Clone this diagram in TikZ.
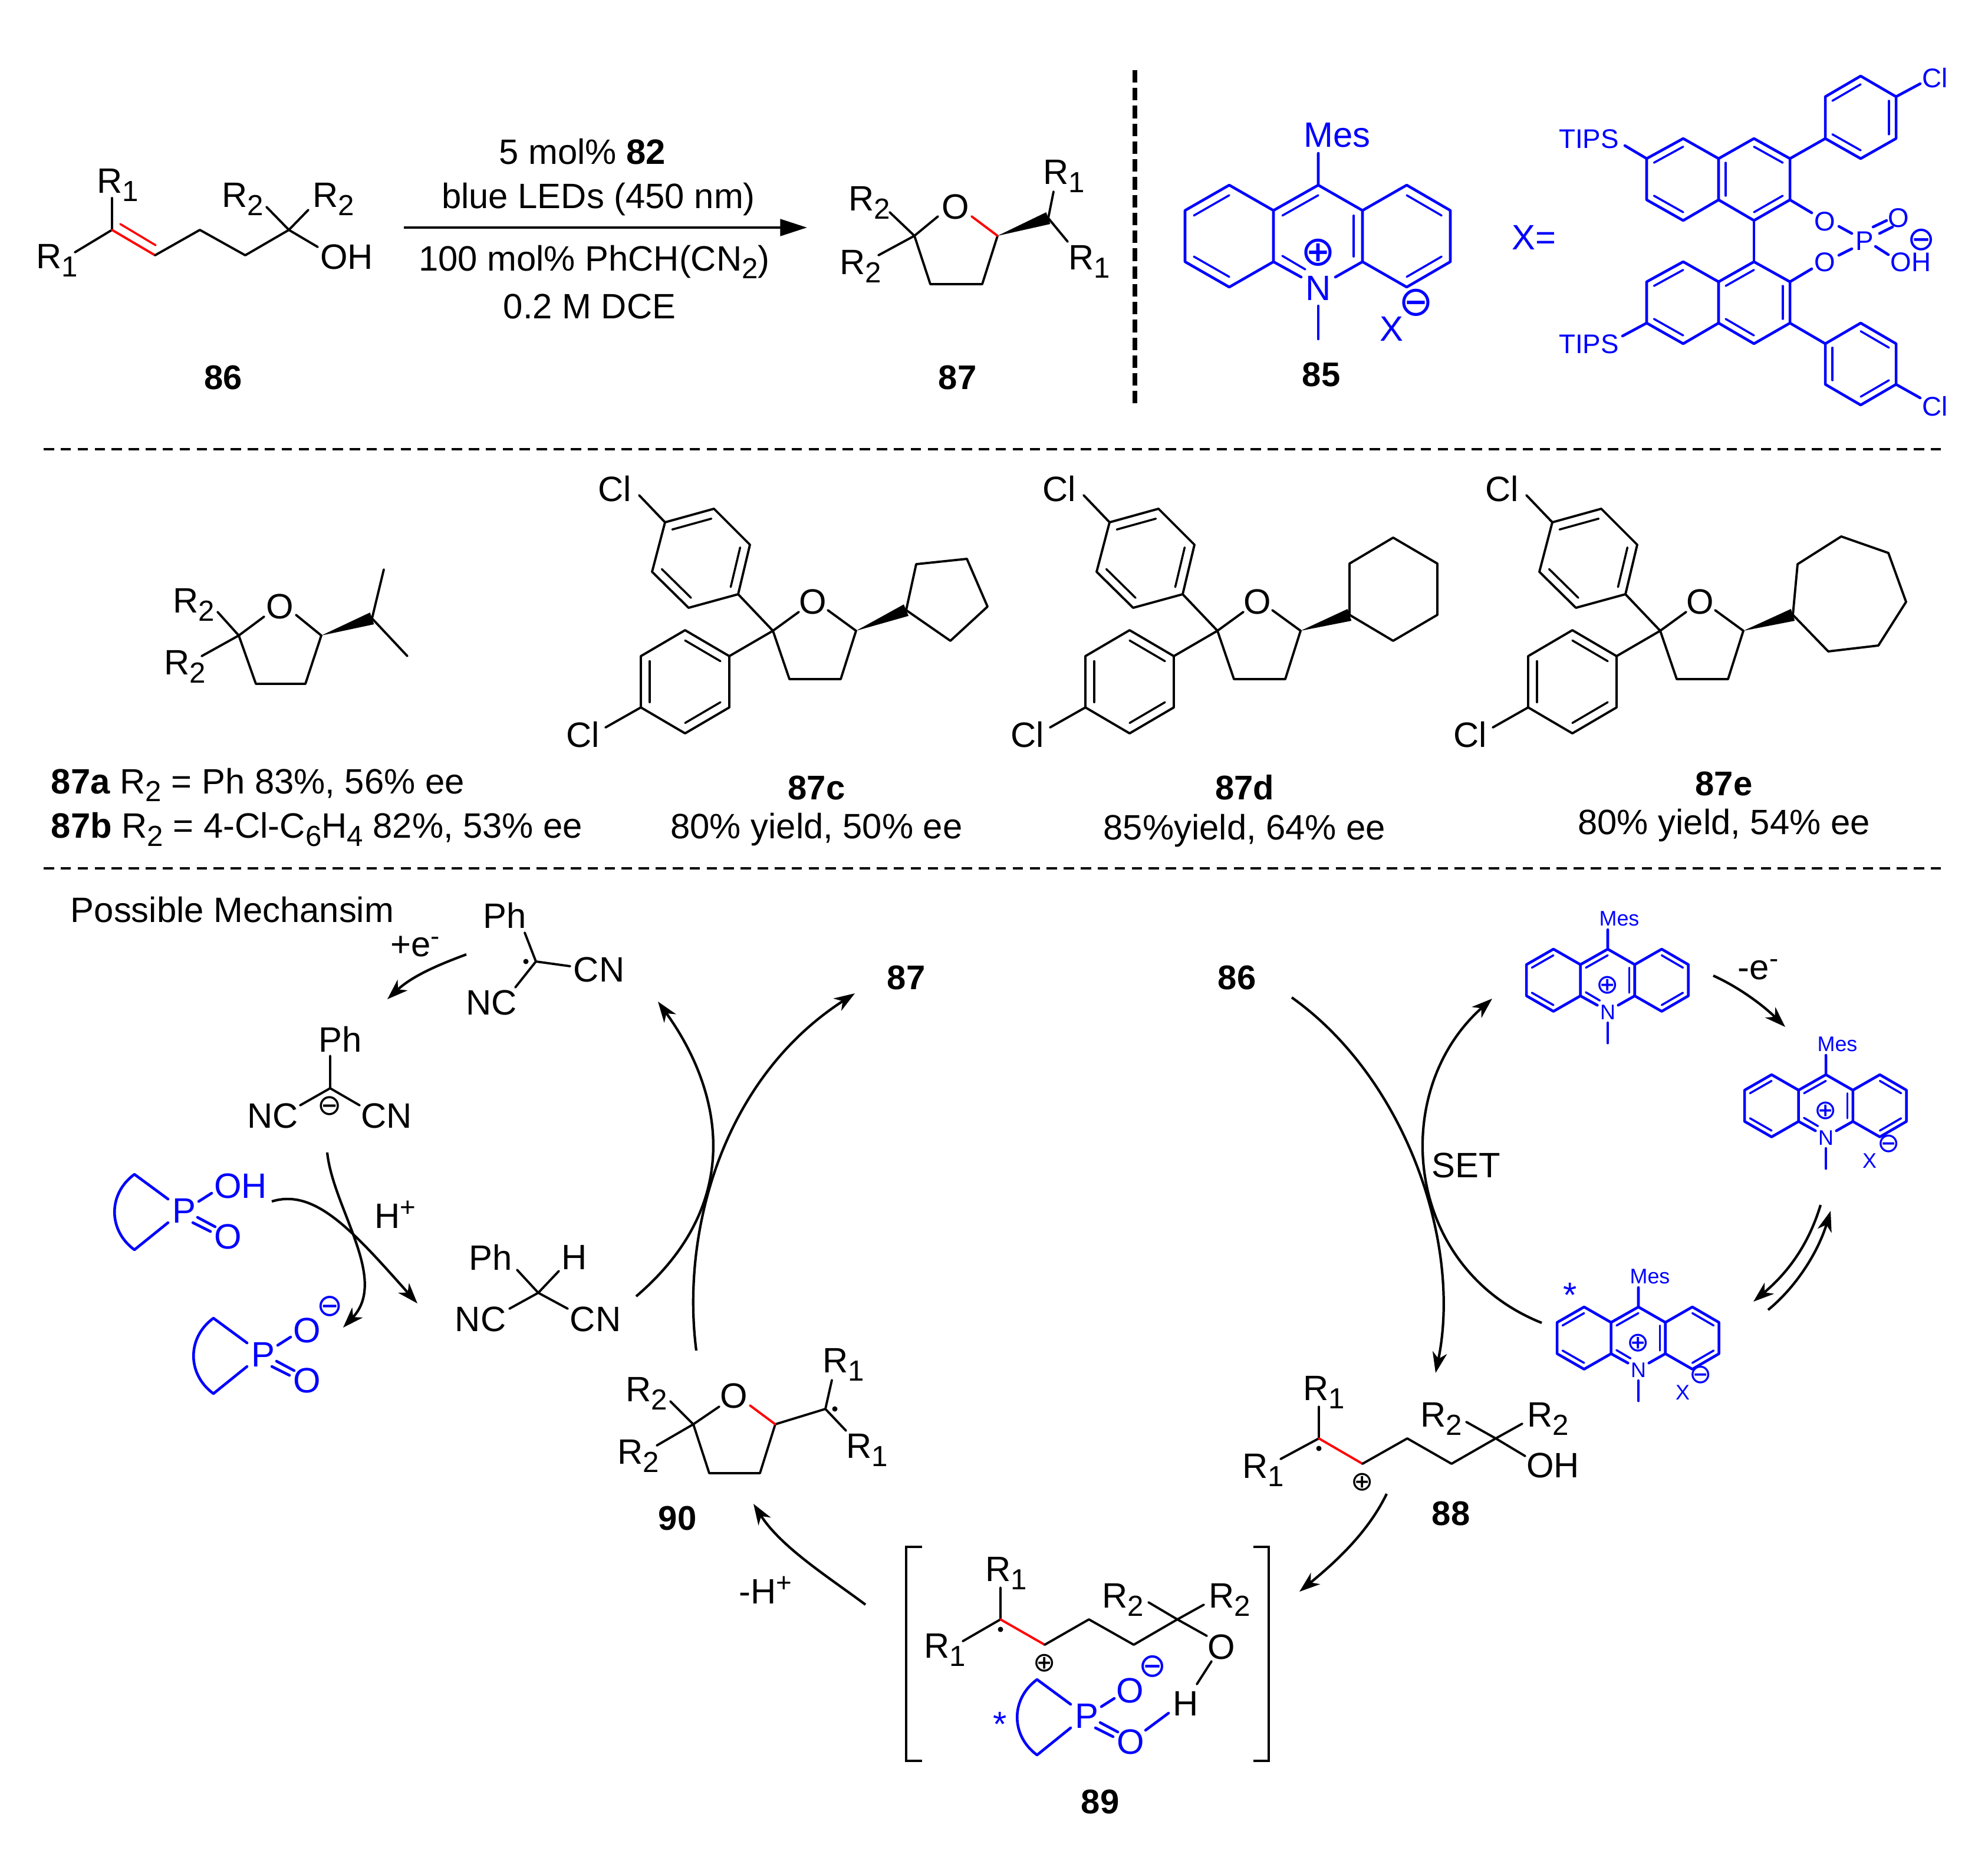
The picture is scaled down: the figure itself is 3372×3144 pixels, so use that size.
\documentclass[tikz,border=0pt]{standalone}
\usepackage{fontspec}
\setmainfont{Liberation Sans}
\newfontfamily\symf{DejaVu Sans}
\usetikzlibrary{calc,arrows.meta}
\newcommand\sbs[1]{\raisebox{-0.42ex}{\fontsize{14pt}{15pt}\selectfont #1}}
\newcommand\sps[1]{\raisebox{0.62ex}{\fontsize{13pt}{15pt}\selectfont #1}}
\tikzset{
  lb/.style={inner sep=0pt,outer sep=0pt,font=\fontsize{17pt}{19pt}\selectfont},
  num/.style={font=\fontsize{16.5pt}{19pt}\selectfont\bfseries},
  sm/.style={font=\fontsize{10.2pt}{12pt}\selectfont},
  md/.style={blue,font=\fontsize{13pt}{15pt}\selectfont},
  bd/.style={line width=1.1pt,line join=round,line cap=round},
  bb/.style={line width=1.3pt,line join=round,line cap=round,blue},
  rb/.style={bd,red},
  inn/.style={line width=1pt,line cap=round},
  curv/.style={line width=1.2pt,-{Stealth[length=10pt,width=7pt,inset=3pt]}},
  blk/.style={line width=1.2pt},
  sepd/.style={line width=1.2pt,dash pattern=on 5pt off 3.2pt},
}
\newcommand\lb[4][]{\node[lb,#1] (#2) at (#3) {#4};}
\newcommand\chg[5][black]{\node[inner sep=0pt,#1,font=\fontsize{#4pt}{#4pt}\selectfont\symf] (#2) at (#3) {#5};}
\newcommand\dbl[4][]{\draw[inn,#1] ($(#2)!.2!(#4)$) -- ($(#3)!.2!(#4)$);}
\newcommand\wdg[2]{\fill ($(#1)$) -- ($(#2)!3pt!90:(#1)$) -- ($(#2)!3pt!-90:(#1)$) -- cycle;}
\newcommand\dotr[1]{\fill (#1) circle (4.5);}
% acridinium: name, x, y, scale, label style, plus y, plus size
\newcommand\acr[7]{%
\begin{scope}[shift={(#2,#3)},scale=#4,blue]
\draw[bb] (0,-54) -- (0,0) -- (-76,43) -- (-151,0) -- (-226,43) -- (-226,130) -- (-151,173) -- (-76,130) -- (-76,43);
\draw[bb] (-76,130) -- (-29,156);
\draw[bb] (0,0) -- (75,43) -- (150,0) -- (224,43) -- (224,130) -- (150,173) -- (75,130) -- (75,43);
\draw[bb] (75,130) -- (29,156);
\draw[bb] (0,205) -- (0,261);
\dbl[blue]{-151,0}{-226,43}{-151,86}
\dbl[blue]{-226,130}{-151,173}{-151,86}
\dbl[blue]{0,0}{-76,43}{0,86}
\dbl[blue]{75,43}{75,130}{0,86}
\dbl[blue]{150,0}{224,43}{150,86}
\dbl[blue]{224,130}{150,173}{150,86}
\draw[inn] (-61,120) -- (-22,143);
\node[lb,#5,blue] (#1N) at (0,175) {N};
\node[lb,#5,blue] (#1M) at (32,-85) {Mes};
\chg[blue]{#1p}{0,#6}{#7}{⊕}
\end{scope}}
% furan-diaryl block
\newcommand\diaryl[2]{%
\begin{scope}[shift={(#1,0)}]
\draw[bd] (1355,1038) -- (1311,1070) -- (1339,1152) -- (1426,1152) -- (1452,1070) -- (1404,1035);
\draw[bd] (1252,1008) -- (1311,1070) -- (1237,1113);
\draw[bd] (1252,1008) -- (1168,1031) -- (1106,970) -- (1128,886) -- (1211,863) -- (1272,924) -- cycle;
\draw[bd] (1128,886) -- (1084,840);
\dbl{1128,886}{1211,863}{1189,947}
\dbl{1272,924}{1252,1008}{1189,947}
\dbl{1106,970}{1168,1031}{1189,947}
\draw[bd] (1237,1113) -- (1162,1069) -- (1087,1113) -- (1087,1200) -- (1162,1244) -- (1237,1200) -- cycle;
\draw[bd] (1087,1200) -- (1027,1234);
\dbl{1162,1069}{1237,1113}{1162,1156}
\dbl{1087,1113}{1087,1200}{1162,1156}
\dbl{1162,1244}{1237,1200}{1162,1156}
\lb{#2O}{1379,1021}{O}
\lb{#2a}{1043,829}{Cl}
\lb{#2b}{989,1246}{Cl}
\end{scope}}
% phosphate ring
\newcommand\pring[3]{%
\begin{scope}[shift={(#2,#3)},blue]
\draw[bb] (285,2034) -- (228,1992) .. controls (183,2025) and (183,2087) .. (228,2120) -- (285,2074);
\draw[bb] (337,2038) -- (359,2024);
\draw[bb] (327,2074) -- (357,2089);
\draw[bb] (335,2065) -- (365,2081);
\node[lb,blue] (#1P) at (312,2054) {P};
\node[lb,blue] (#1O) at (387,2098) {O};
\end{scope}}
\begin{document}
\begin{tikzpicture}[x=0.01cm,y=-0.01cm]
\useasboundingbox (0,0) rectangle (3372,3144);
\fill[white] (0,0) rectangle (3372,3144);
% 86
\draw[bd] (190,336) -- (190,390);
\draw[bd] (127,428) -- (190,390);
\draw[rb] (190,390) -- (263,433);
\draw[rb,inn] (204,380) -- (264,416);
\draw[bd] (263,433) -- (339,390) -- (416,433) -- (490,390);
\draw[bd] (452,351) -- (490,390) -- (539,419);
\draw[bd] (523,356) -- (490,390);
\lb{r1a}{200,314}{R\sbs{1}}
\lb{r1b}{97,442}{R\sbs{1}}
\lb{r2a}{412,338}{R\sbs{2}}
\lb{r2b}{566,338}{R\sbs{2}}
\lb{oh}{588,436}{OH}
\lb[num]{l86}{379,641}{86}
% reaction arrow
\coordinate (ra) at (685,386);
\coordinate (rb) at (1369,386);
\draw[line width=1.4pt,-{Triangle[length=13pt,width=8pt]}] (ra) -- (rb);
\lb{c1}{988,257}{5 mol\% \textbf{82}}
\lb{c2}{1015,338}{blue LEDs (450 nm)}
\lb{c3}{1008,444}{100 mol\% PhCH(CN\sbs{2})}
\lb{c4}{1000,520}{0.2 M DCE}
% 87
\draw[bd] (1591,367) -- (1551,400) -- (1578,482) -- (1666,482) -- (1692,400);
\draw[rb] (1648,367) -- (1692,400);
\wdg{1692,400}{1778,370}
\draw[bd] (1787,325) -- (1778,370) -- (1811,410);
\draw[bd] (1509,360) -- (1551,400) -- (1490,433);
\lb{o87}{1621,351}{O}
\lb{r87a}{1475,344}{R\sbs{2}}
\lb{r87b}{1460,452}{R\sbs{2}}
\lb{r87c}{1805,299}{R\sbs{1}}
\lb{r87d}{1848,444}{R\sbs{1}}
\lb[num]{l87}{1624,641}{87}
% vertical separator
\coordinate (va) at (1925,119);
\coordinate (vb) at (1925,687);
\draw[line width=2.2pt,dash pattern=on 6pt off 2.6pt] (va) -- (vb);
% 85
\acr{a85}{2236}{314}{1}{}{114}{20}
\lb[blue]{x85}{2360,558}{X}
\chg[blue]{m85}{2402,513}{20}{⊖}
\lb[num]{l85}{2241,636}{85}
\lb[blue]{xeq}{2602,403}{X=}
% binol upper
\begin{scope}[blue]
\draw[bb] (2855,235) -- (2793,269) -- (2793,339) -- (2855,374) -- (2915,339) -- (2915,269) -- cycle;
\draw[bb] (2915,269) -- (2975,235) -- (3036,269) -- (3036,339) -- (2975,374) -- (2915,339);
\draw[bb] (3036,269) -- (3096,235) -- (3096,164) -- (3156,129) -- (3216,164) -- (3216,235) -- (3156,269) -- (3096,235);
\draw[bb] (3216,164) -- (3257,142);
\draw[bb] (2793,269) -- (2756,247);
\draw[bb] (3036,339) -- (3073,361);
\draw[bb] (2975,374) -- (2975,444);
\dbl[blue]{2855,235}{2793,269}{2855,304}
\dbl[blue]{2793,339}{2855,374}{2855,304}
\dbl[blue]{2915,339}{2915,269}{2975,304}
\dbl[blue]{2975,235}{3036,269}{2975,304}
\dbl[blue]{3036,339}{2975,374}{2975,304}
\dbl[blue]{3096,164}{3156,129}{3156,199}
\dbl[blue]{3216,164}{3216,235}{3156,199}
\dbl[blue]{3096,235}{3156,269}{3156,199}
% binol lower
\draw[bb] (2855,444) -- (2793,478) -- (2793,548) -- (2855,583) -- (2915,548) -- (2915,478) -- cycle;
\draw[bb] (2915,478) -- (2975,444) -- (3036,478) -- (3036,548) -- (2975,583) -- (2915,548);
\draw[bb] (3036,548) -- (3096,583);
\draw[bb] (3096,583) -- (3156,548) -- (3216,583) -- (3216,652) -- (3156,687) -- (3096,652) -- cycle;
\draw[bb] (3216,652) -- (3257,675);
\draw[bb] (2793,548) -- (2752,570);
\draw[bb] (3036,478) -- (3073,456);
\dbl[blue]{2855,444}{2793,478}{2855,513}
\dbl[blue]{2793,548}{2855,583}{2855,513}
\dbl[blue]{2915,478}{2975,444}{2975,513}
\dbl[blue]{3036,478}{3036,548}{2975,513}
\dbl[blue]{2915,548}{2975,583}{2975,513}
\dbl[blue]{3156,548}{3216,583}{3156,617}
\dbl[blue]{3096,583}{3096,652}{3156,617}
\dbl[blue]{3216,652}{3156,687}{3156,617}
% phosphate
\draw[bb] (3119,384) -- (3141,396);
\draw[bb] (3119,433) -- (3141,422);
\draw[bb] (3181,418) -- (3203,432);
\draw[bb] (3177,385) -- (3200,374);
\draw[bb] (3188,396) -- (3210,385);
\end{scope}
\lb[md]{ol1}{3282,132}{Cl}
\lb[md]{ol2}{3282,689}{Cl}
\lb[md]{t1}{2695,236}{TIPS}
\lb[md]{t2}{2695,584}{TIPS}
\lb[md]{ob1}{3095,376}{O}
\lb[md]{ob2}{3095,445}{O}
\lb[md]{pb}{3163,409}{P}
\lb[md]{ob3}{3220,370}{O}
\lb[md]{ohb}{3241,445}{OH}
\chg[blue]{mb}{3259,407}{16}{⊖}
% separators
\coordinate (h1a) at (74,762);
\coordinate (h1b) at (3299,762);
\coordinate (h2a) at (74,1473);
\coordinate (h2b) at (3299,1473);
\draw[sepd] (h1a) -- (h1b);
\draw[sepd] (h2a) -- (h2b);
% 87a
\draw[bd] (448,1046) -- (405,1078) -- (434,1160) -- (518,1160) -- (545,1078) -- (502,1043);
\wdg{545,1078}{631,1049}
\draw[bd] (651,966) -- (631,1049) -- (691,1113);
\draw[bd] (369,1038) -- (405,1078) -- (342,1113);
\lb{o87a}{475,1029}{O}
\lb{r87e}{329,1026}{R\sbs{2}}
\lb{r87f}{314,1131}{R\sbs{2}}
\lb[anchor=west]{t87a}{87,1331}{\textbf{87a} R\sbs{2} = Ph 83\%, 56\% ee}
\lb[anchor=west]{t87b}{87,1407}{\textbf{87b} R\sbs{2} = 4-Cl-C\sbs{6}H\sbs{4} 82\%, 53\% ee}
% 87c
\diaryl{0}{dc}
\wdg{1452,1070}{1537,1035}
\draw[bd] (1537,1035) -- (1554,957) -- (1640,948) -- (1675,1029) -- (1612,1087) -- cycle;
\lb[num]{l87c}{1385,1336}{87c}
\lb{y87c}{1385,1407}{80\% yield, 50\% ee}
% 87d
\diaryl{754}{dd}
\wdg{2206,1070}{2289,1043}
\draw[bd] (2289,1043) -- (2289,956) -- (2363,912) -- (2438,956) -- (2438,1043) -- (2363,1087) -- cycle;
\lb[num]{l87d}{2111,1336}{87d}
\lb{y87d}{2111,1409}{85\%yield, 64\% ee}
% 87e
\diaryl{1505}{de}
\wdg{2957,1070}{3041,1043}
\draw[bd] (3041,1043) -- (3049,957) -- (3123,910) -- (3203,938) -- (3233,1021) -- (3186,1095) -- (3101,1105) -- cycle;
\lb[num]{l87e}{2924,1329}{87e}
\lb{y87e}{2924,1400}{80\% yield, 54\% ee}
% mechanism title
\lb{pm}{394,1543}{Possible Mechansim}
% radical
\draw[bd] (890,1582) -- (909,1631) -- (967,1639);
\draw[bd] (909,1631) -- (874,1675);
\dotr{892,1631}
\lb{rph}{856,1553}{Ph}
\lb{rcn}{1016,1645}{CN}
\lb{rnc}{834,1701}{NC}
\lb{pe}{704,1606}{+e\sps{-}}
\coordinate (e1a) at (791,1619);
\coordinate (e1b) at (657,1695);
\draw[curv] (e1a) .. controls (745,1636) and (700,1655) .. (e1b);
% anion
\draw[bd] (560,1791) -- (560,1846) -- (509,1875);
\draw[bd] (560,1846) -- (610,1875);
\lb{aph}{577,1763}{Ph}
\lb{anc}{463,1893}{NC}
\lb{acn}{656,1893}{CN}
\chg{am}{559,1876}{14}{⊖}
\coordinate (p1a) at (555,1955);
\coordinate (p1b) at (582,2252);
\coordinate (p2a) at (461,2038);
\coordinate (p2b) at (708,2211);
\draw[curv] (p1a) .. controls (565,2050) and (660,2170) .. (p1b);
\draw[curv] (p2a) .. controls (535,2015) and (600,2090) .. (p2b);
\lb{hp}{670,2060}{H\sps{+}}
% phosphates
\pring{pa}{0}{0}
\lb[blue]{paoh}{408,2012}{OH}
\pring{pc}{134}{244}
\lb[blue]{pco}{521,2257}{O}
\chg[blue]{pcm}{560,2216}{15}{⊖}
% PhCH(CN)2
\draw[bd] (877,2154) -- (913,2193) -- (948,2156);
\draw[bd] (864,2220) -- (913,2193) -- (963,2220);
\lb{nph}{832,2133}{Ph}
\lb{nh}{974,2133}{H}
\lb{nnc}{815,2238}{NC}
\lb{ncn}{1010,2238}{CN}
\coordinate (ca) at (1079,2199);
\coordinate (cb) at (1116,1699);
\draw[curv] (ca) .. controls (1265,2040) and (1225,1850) .. (cb);
\coordinate (da) at (1181,2291);
\coordinate (db) at (1450,1685);
\draw[curv] (da) .. controls (1155,2090) and (1225,1830) .. (db);
\lb[num]{m87}{1537,1658}{87}
\lb[num]{m86}{2098,1658}{86}
\coordinate (fa) at (2191,1692);
\coordinate (fb) at (2435,2329);
\draw[curv] (fa) .. controls (2385,1830) and (2480,2110) .. (fb);
\coordinate (ga) at (2615,2244);
\coordinate (gb) at (2531,1694);
\draw[curv] (ga) .. controls (2380,2150) and (2355,1850) .. (gb);
\lb{set}{2487,1977}{SET}
\coordinate (ha) at (2906,1655);
\coordinate (hb) at (3028,1742);
\draw[curv] (ha) .. controls (2950,1675) and (2990,1705) .. (hb);
\lb{me}{2982,1645}{-e\sps{-}}
% small acridiniums
\acr{aa}{2727}{1610}{.61}{sm}{100}{13}
\acr{ab}{3097}{1823}{.61}{sm}{100}{13}
\lb[blue,sm]{xb}{3171,1969}{X}
\chg[blue]{mbb}{3204,1940}{13}{⊖}
\acr{ac}{2779}{2217}{.61}{sm}{100}{13}
\lb[blue,sm]{xc}{2854,2362}{X}
\chg[blue]{mcc}{2885,2332}{13}{⊖}
\lb[blue]{sc}{2663,2197}{*}
\coordinate (ia) at (3088,2044);
\coordinate (ib) at (2974,2208);
\coordinate (ja) at (2999,2222);
\coordinate (jb) at (3105,2054);
\draw[curv] (ia) .. controls (3065,2120) and (3025,2165) .. (ib);
\draw[curv] (ja) .. controls (3050,2180) and (3085,2120) .. (jb);
% 88
\draw[bd] (2237,2386) -- (2237,2440) -- (2172,2475);
\draw[rb] (2237,2440) -- (2311,2483);
\draw[bd] (2311,2483) -- (2387,2440) -- (2462,2483) -- (2537,2440) -- (2587,2470);
\draw[bd] (2487,2412) -- (2537,2440) -- (2582,2415);
\dotr{2237,2457}
\lb{r88a}{2246,2362}{R\sbs{1}}
\lb{r88b}{2143,2494}{R\sbs{1}}
\lb{r88c}{2445,2407}{R\sbs{2}}
\lb{r88d}{2626,2407}{R\sbs{2}}
\lb{oh88}{2634,2486}{OH}
\chg{p88}{2311,2514}{13}{⊕}
\lb[num]{l88}{2461,2567}{88}
\coordinate (ka) at (2352,2534);
\coordinate (kb) at (2204,2700);
\draw[curv] (ka) .. controls (2320,2600) and (2265,2650) .. (kb);
% 90
\draw[bd] (1220,2386) -- (1176,2416) -- (1203,2499) -- (1289,2499) -- (1315,2416) -- (1400,2390);
\draw[rb] (1272,2384) -- (1315,2416);
\draw[bd] (1411,2341) -- (1400,2390) -- (1435,2427);
\draw[bd] (1137,2377) -- (1176,2416) -- (1114,2452);
\dotr{1416,2390}
\lb{o90}{1245,2368}{O}
\lb{r90a}{1431,2315}{R\sbs{1}}
\lb{r90b}{1471,2460}{R\sbs{1}}
\lb{r90c}{1097,2364}{R\sbs{2}}
\lb{r90d}{1083,2470}{R\sbs{2}}
\lb[num]{l90}{1149,2575}{90}
\coordinate (la) at (1468,2722);
\coordinate (lb) at (1278,2551);
\draw[curv] (la) .. controls (1408,2677) and (1325,2625) .. (lb);
\lb{mh}{1298,2697}{-H\sps{+}}
% 89
\draw[blk] (1564,2624) -- (1537,2624) -- (1537,2987) -- (1564,2987);
\draw[blk] (2126,2624) -- (2152,2624) -- (2152,2987) -- (2126,2987);
\draw[bd] (1697,2693) -- (1697,2747) -- (1633,2784);
\draw[rb] (1697,2747) -- (1772,2790);
\draw[bd] (1772,2790) -- (1847,2747) -- (1923,2790) -- (1997,2747) -- (2047,2775);
\draw[bd] (1948,2718) -- (1997,2747) -- (2042,2722);
\draw[bd] (2055,2818) -- (2030,2857);
\dotr{1697,2764}
\lb{r89a}{1707,2669}{R\sbs{1}}
\lb{r89b}{1603,2799}{R\sbs{1}}
\lb{r89c}{1905,2714}{R\sbs{2}}
\lb{r89d}{2086,2714}{R\sbs{2}}
\lb{o89}{2072,2794}{O}
\lb{h89}{2011,2890}{H}
\chg{p89}{1772,2821}{13}{⊕}
\chg[blue]{m89}{1955,2827}{16}{⊖}
\pring{pd}{1531}{857}
\lb[blue]{o89b}{1917,2868}{O}
\lb[blue]{s89}{1696,2925}{*}
\draw[bb] (1943,2935) -- (1982,2906);
\lb[num]{l89}{1866,3056}{89}
\end{tikzpicture}
\end{document}
